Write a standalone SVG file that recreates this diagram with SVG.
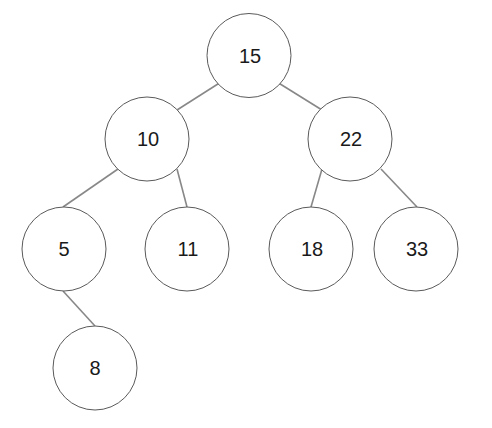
<svg xmlns="http://www.w3.org/2000/svg" width="492" height="428" viewBox="0 0 492 428">
<style>
.n circle{fill:#fff;stroke:#5a5a5a;stroke-width:1}
.n text{font-family:"Liberation Sans",Arial,sans-serif;font-size:20px;fill:#1a1a1a;text-anchor:middle;dominant-baseline:central}
#edges line{stroke:#888;stroke-width:1.6}
</style>
<rect width="492" height="428" fill="#fff"/>
<g id="edges">
<line x1="221" y1="82" x2="177" y2="110"/>
<line x1="277" y1="82" x2="322" y2="110"/>
<line x1="118" y1="169" x2="63" y2="207"/>
<line x1="177" y1="169" x2="187" y2="207"/>
<line x1="322" y1="169" x2="311" y2="207"/>
<line x1="381" y1="169" x2="417" y2="207"/>
<line x1="63" y1="291" x2="95" y2="326"/>
</g>
<g id="n15" class="n"><circle cx="249" cy="55.5" r="42"/><text x="250" y="55.5">15</text></g>
<g id="n10" class="n"><circle cx="147" cy="139" r="42"/><text x="148" y="139">10</text></g>
<g id="n22" class="n"><circle cx="350" cy="139" r="42"/><text x="351" y="139">22</text></g>
<g id="n5" class="n"><circle cx="64" cy="249" r="42"/><text x="64" y="249">5</text></g>
<g id="n11" class="n"><circle cx="187" cy="249" r="42"/><text x="188" y="249">11</text></g>
<g id="n18" class="n"><circle cx="311" cy="249" r="42"/><text x="312" y="249">18</text></g>
<g id="n33" class="n"><circle cx="416" cy="249" r="42"/><text x="417" y="249">33</text></g>
<g id="n8" class="n"><circle cx="95" cy="368" r="42"/><text x="95" y="368">8</text></g>
</svg>
